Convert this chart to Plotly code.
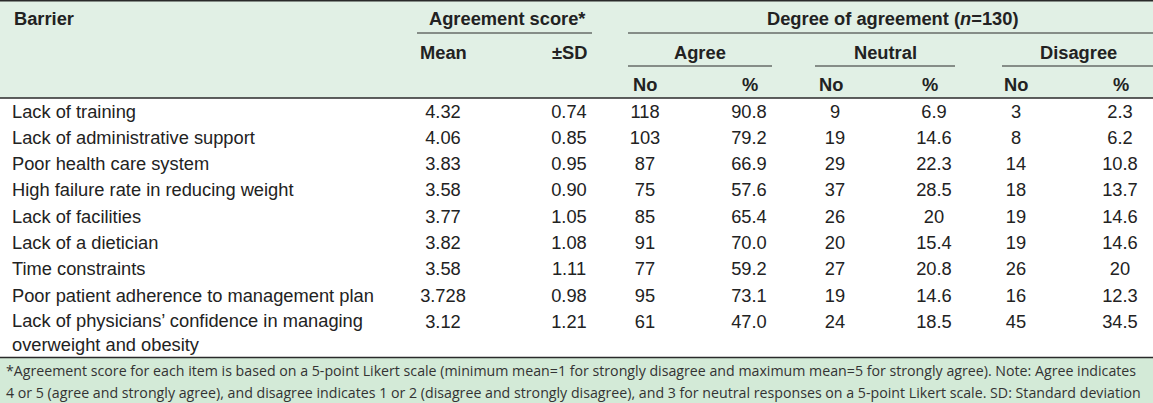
import plotly.graph_objects as go

W, H = 1153, 403

barriers = [
    "Lack of training",
    "Lack of administrative support",
    "Poor health care system",
    "High failure rate in reducing weight",
    "Lack of facilities",
    "Lack of a dietician",
    "Time constraints",
    "Poor patient adherence to management plan",
    "Lack of physicians\u2019 confidence in managing<br>overweight and obesity",
]
mean = ["4.32", "4.06", "3.83", "3.58", "3.77", "3.82", "3.58", "3.728", "3.12"]
sd = ["0.74", "0.85", "0.95", "0.90", "1.05", "1.08", "1.11", "0.98", "1.21"]
agree_no = ["118", "103", "87", "75", "85", "91", "77", "95", "61"]
agree_pct = ["90.8", "79.2", "66.9", "57.6", "65.4", "70.0", "59.2", "73.1", "47.0"]
neutral_no = ["9", "19", "29", "37", "26", "20", "27", "19", "24"]
neutral_pct = ["6.9", "14.6", "22.3", "28.5", "20", "15.4", "20.8", "14.6", "18.5"]
disagree_no = ["3", "8", "14", "18", "19", "19", "26", "16", "45"]
disagree_pct = ["2.3", "6.2", "10.8", "13.7", "14.6", "14.6", "20", "12.3", "34.5"]

footnote = [
    "*Agreement score for each item is based on a 5-point Likert scale (minimum mean=1 for strongly disagree and maximum mean=5 for strongly agree). Note: Agree indicates",
    "4 or 5 (agree and strongly agree), and disagree indicates 1 or 2 (disagree and strongly disagree), and 3 for neutral responses on a 5-point Likert scale. SD: Standard deviation",
]

HEAD_BG = "#e1f0e5"
FOOT_BG = "#d3ead7"
LINE = "#2a2a2a"
TXT = "#222222"
FONT = "Liberation Sans, Arial, sans-serif"
FS = 18.3

ROW0, ROW_H = 113, 26.3
row_y = [ROW0 + i * ROW_H for i in range(len(barriers))]

# column centres for the numeric columns
cols = [
    (443, mean), (569, sd),
    (645, agree_no), (749, agree_pct),
    (835, neutral_no), (934, neutral_pct),
    (1016, disagree_no), (1120, disagree_pct),
]

fig = go.Figure()

# background bands + rules
fig.add_shape(type="rect", x0=0, x1=W, y0=0, y1=98, fillcolor=HEAD_BG, line_width=0, layer="below")
fig.add_shape(type="rect", x0=0, x1=W, y0=358, y1=H, fillcolor=FOOT_BG, line_width=0, layer="below")
for y in (0.8, 98, 357.5):
    fig.add_shape(type="line", x0=0, x1=W, y0=y, y1=y, line=dict(color=LINE, width=1.5))
for x0, x1, y in [(417, 592, 33), (628, W, 33), (628, 772, 66), (815, 955, 66), (1002, W, 66)]:
    fig.add_shape(type="line", x0=x0, x1=x1, y0=y, y1=y, line=dict(color=LINE, width=1))

# barrier labels (multi-line labels shifted so first line sits on the row)
lab_y = [y + 11 * b.count("<br>") for y, b in zip(row_y, barriers)]
fig.add_trace(go.Scatter(
    x=[12] * len(barriers), y=lab_y, text=barriers, mode="text",
    textposition="middle right", textfont=dict(family=FONT, size=FS, color=TXT),
    hoverinfo="skip", showlegend=False,
))

for cx, vals in cols:
    fig.add_trace(go.Scatter(
        x=[cx] * len(vals), y=row_y, text=vals, mode="text",
        textposition="middle center", textfont=dict(family=FONT, size=FS, color=TXT),
        hoverinfo="skip", showlegend=False,
    ))

# header text
heads = [
    ("Barrier", 12, 18, "left"),
    ("Agreement score*", 507, 18, "center"),
    ("Degree of agreement (<i>n</i>=130)", 892, 18, "center"),
    ("Mean", 443, 52, "center"),
    ("\u00b1SD", 569, 52, "center"),
    ("Agree", 700, 52, "center"),
    ("Neutral", 885, 52, "center"),
    ("Disagree", 1078, 52, "center"),
    ("No", 645, 84, "center"),
    ("%", 750, 84, "center"),
    ("No", 831, 84, "center"),
    ("%", 930, 84, "center"),
    ("No", 1016, 84, "center"),
    ("%", 1121, 84, "center"),
]
for txt, x, y, anc in heads:
    fig.add_annotation(
        x=x, y=y, text=f"<b>{txt}</b>", showarrow=False, xanchor=anc, yanchor="middle",
        font=dict(family=FONT, size=FS, color=TXT),
    )

for i, line in enumerate(footnote):
    fig.add_annotation(
        x=4, y=370 + i * 22, text=line, showarrow=False, xanchor="left", yanchor="middle",
        font=dict(family="Open Sans, sans-serif", size=14.2, color="#333333"),
    )

fig.update_xaxes(range=[0, W], visible=False, fixedrange=True)
fig.update_yaxes(range=[H, 0], visible=False, fixedrange=True)
fig.update_layout(
    width=W, height=H, margin=dict(l=0, r=0, t=0, b=0),
    paper_bgcolor="white", plot_bgcolor="white",
)

fig.write_html(
    "out.html",
    config={"displayModeBar": False},
    post_script="document.body.style.margin='0';document.body.style.overflow='hidden';",
)
